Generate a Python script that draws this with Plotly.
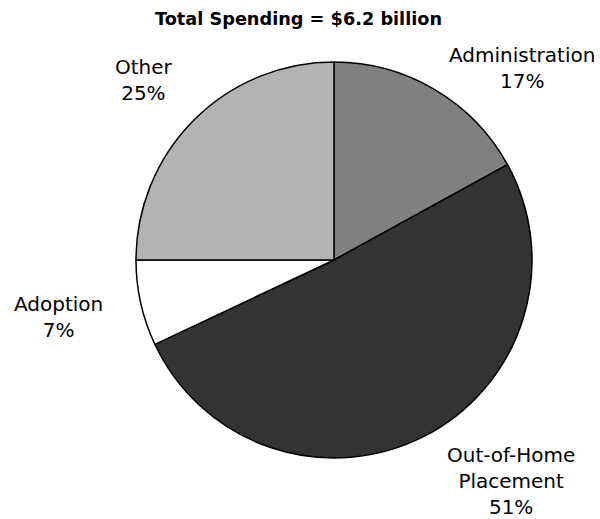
import plotly.graph_objects as go

# Spending shares by category (percent of total)
categories = ["Administration", "Out-of-Home<br>Placement", "Adoption", "Other"]
shares = [17, 51, 7, 25]
slice_colors = ["#808080", "#333333", "#ffffff", "#b3b3b3"]
title_text = "Total Spending = $6.2 billion"

W, H = 600, 519
cx, cy, r = 334, 260, 198  # pie centre and radius in pixels (from top-left)

fig = go.Figure(
    go.Pie(
        labels=categories,
        values=shares,
        sort=False,
        direction="clockwise",
        rotation=0,
        textinfo="none",
        hoverinfo="label+percent",
        marker=dict(colors=slice_colors, line=dict(color="#000000", width=1.5)),
        domain=dict(
            x=[(cx - r) / W, (cx + r) / W],
            y=[(H - cy - r) / H, (H - cy + r) / H],
        ),
        showlegend=False,
    )
)

# Outside labels: category name with its share underneath
label_pos = {
    "Administration": (522, 68),
    "Out-of-Home<br>Placement": (511, 481),
    "Adoption": (58, 317),
    "Other": (144, 80),
}
font_family = "DejaVu Sans, Verdana, sans-serif"
annotations = []
for name, val in zip(categories, shares):
    px, py = label_pos[name]
    annotations.append(
        dict(
            text=f"{name}<br>{val}%",
            x=px / W,
            y=1 - py / H,
            xref="paper",
            yref="paper",
            showarrow=False,
            xanchor="center",
            yanchor="middle",
            align="center",
            font=dict(family=font_family, size=20, color="#000000"),
        )
    )
annotations.append(
    dict(
        text=f"<b>{title_text}</b>",
        x=298 / W,
        y=1 - 19 / H,
        xref="paper",
        yref="paper",
        showarrow=False,
        xanchor="center",
        yanchor="middle",
        font=dict(family=font_family, size=17.7, color="#000000"),
    )
)

fig.update_layout(
    width=W,
    height=H,
    margin=dict(l=0, r=0, t=0, b=0),
    paper_bgcolor="#ffffff",
    plot_bgcolor="#ffffff",
    annotations=annotations,
)

fig.write_html("out.html")
